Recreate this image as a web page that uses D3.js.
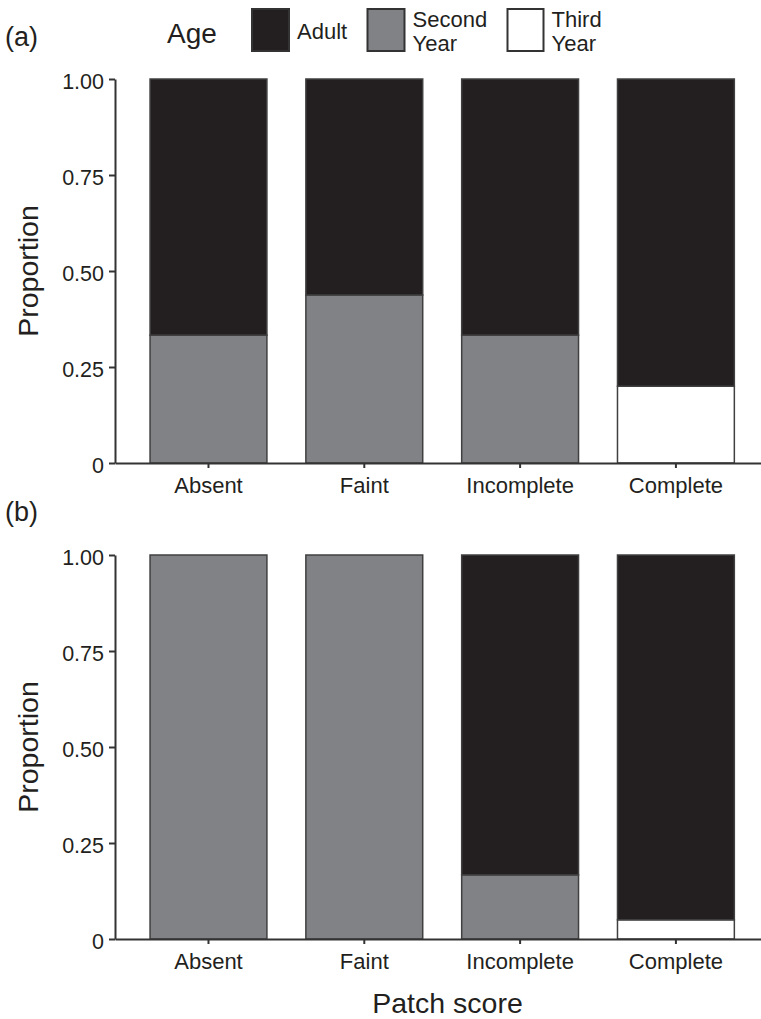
<!DOCTYPE html>
<html>
<head>
<meta charset="utf-8">
<script src="https://cdn.jsdelivr.net/npm/d3@7"></script>
<style>
  html, body { margin: 0; padding: 0; background: #fff; }
  svg text { font-family: "Liberation Sans", Arial, Helvetica, sans-serif; fill: #231f20; }
</style>
</head>
<body>
<svg id="chart" width="761" height="1019"></svg>
<script>
// ---- data ----
const categories = ["Absent", "Faint", "Incomplete", "Complete"];
const ageGroups = ["Adult", "Second Year", "Third Year"];
const ageLabels = [["Adult"], ["Second", "Year"], ["Third", "Year"]];
const ageColors = ["#231f20", "#808285", "#ffffff"];
const yTicks = [0, 0.25, 0.5, 0.75, 1];
const yTickLabels = ["0", "0.25", "0.50", "0.75", "1.00"];

// panel (a) proportions per category
const panelA_adult  = [0.667, 0.5625, 0.667, 0.80];
const panelA_second = [0.333, 0.4375, 0.333, 0.00];
const panelA_third  = [0.000, 0.0000, 0.000, 0.20];
// panel (b)
const panelB_adult  = [0.00, 0.00, 0.833, 0.95];
const panelB_second = [1.00, 1.00, 0.167, 0.00];
const panelB_third  = [0.00, 0.00, 0.000, 0.05];

const svg = d3.select("#chart");
const axisColor = "#333333";
const fontFam = "'Liberation Sans', Arial, sans-serif";

const x = d3.scaleBand().domain(categories).range([115, 769.4])
  .paddingInner(0.25).paddingOuter(0.225);

function drawPanel(label, adult, second, third, top, bottom, labelBaseline) {
  const g = svg.append("g");
  const y = d3.scaleLinear().domain([0, 1]).range([bottom, top]);

  const rows = categories.map((c, i) => ({
    cat: c, "Adult": adult[i], "Second Year": second[i], "Third Year": third[i]
  }));
  // stacking order bottom->top: Third Year, Second Year, Adult
  const stack = d3.stack().keys(["Third Year", "Second Year", "Adult"]);
  const series = stack(rows);

  series.forEach(s => {
    const color = ageColors[ageGroups.indexOf(s.key)];
    g.append("g").selectAll("rect")
      .data(s.filter(d => d[1] - d[0] > 0))
      .join("rect")
      .attr("x", d => x(d.data.cat))
      .attr("width", x.bandwidth())
      .attr("y", d => y(d[1]))
      .attr("height", d => y(d[0]) - y(d[1]))
      .attr("fill", color)
      .attr("stroke", "#404040")
      .attr("stroke-width", 1.5);
  });

  // y axis
  const yAxis = g.append("g").attr("transform", "translate(115,0)")
    .call(d3.axisLeft(y).tickValues(yTicks)
      .tickFormat((d, i) => yTickLabels[i]).tickSize(6).tickPadding(5).tickSizeOuter(0));
  yAxis.select(".domain").attr("stroke", axisColor).attr("stroke-width", 2);
  yAxis.selectAll(".tick line").attr("stroke", axisColor).attr("stroke-width", 2);
  yAxis.selectAll(".tick text").attr("font-size", 21.5).attr("dy", "0.45em")
    .style("font-family", fontFam).attr("fill", "#231f20");

  // x axis
  const xAxis = g.append("g").attr("transform", `translate(0,${bottom})`)
    .call(d3.axisBottom(x).tickSize(5).tickPadding(9).tickSizeOuter(0));
  xAxis.select(".domain").attr("stroke", axisColor).attr("stroke-width", 2);
  xAxis.selectAll(".tick line").attr("stroke", axisColor).attr("stroke-width", 2);
  xAxis.selectAll(".tick text").attr("font-size", 22)
    .style("font-family", fontFam).attr("fill", "#231f20");

  // y title
  svg.append("text")
    .attr("transform", `translate(38,${(top + bottom) / 2}) rotate(-90)`)
    .attr("text-anchor", "middle")
    .attr("font-size", 28.5)
    .text("Proportion");

  // panel label
  svg.append("text").attr("x", 5).attr("y", labelBaseline)
    .attr("font-size", 27).text(label);
}

drawPanel("(a)", panelA_adult, panelA_second, panelA_third, 79, 463, 46);
drawPanel("(b)", panelB_adult, panelB_second, panelB_third, 555, 939, 521);

// x title
svg.append("text").attr("x", 447.5).attr("y", 1013)
  .attr("text-anchor", "middle").attr("font-size", 28.5).text("Patch score");

// legend
svg.append("text").attr("x", 167).attr("y", 43).attr("font-size", 28).text("Age");
const legendX = [252, 367.5, 507.5];
const legendW = [37, 37, 36];
ageGroups.forEach((a, i) => {
  svg.append("rect")
    .attr("x", legendX[i]).attr("y", 9)
    .attr("width", legendW[i]).attr("height", 42)
    .attr("fill", ageColors[i])
    .attr("stroke", "#333333").attr("stroke-width", 2);
  const lines = ageLabels[i];
  const t = svg.append("text").attr("x", legendX[i] + legendW[i] + 8).attr("font-size", 22);
  if (lines.length === 1) {
    t.attr("y", 39).text(lines[0]);
  } else {
    lines.forEach((ln, j) => {
      t.append("tspan").attr("x", legendX[i] + legendW[i] + 8)
        .attr("y", 26.5 + j * 24).text(ln);
    });
  }
});
</script>
</body>
</html>
